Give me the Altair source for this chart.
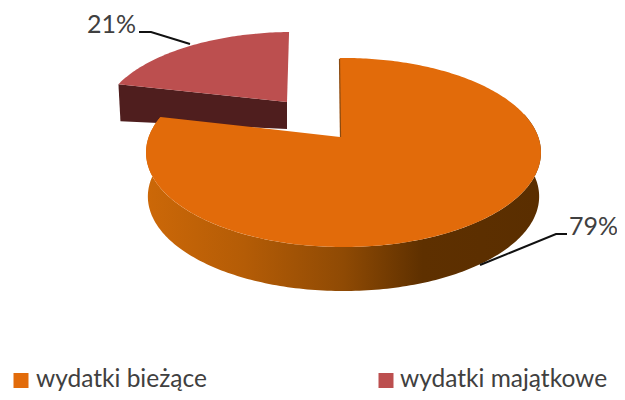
import math
import altair as alt
import pandas as pd

categories = ["wydatki bieżące", "wydatki majątkowe"]
shares = [79, 21]
share_labels = ["79%", "21%"]
colors = ["#E26B0A", "#BC4F4F"]
wall_dark = "#4F1E1E"
M = 8
START = -1.3
K = 0.164


def project(t, cx, cy, ax, by, shear=0.0):
    r = math.radians(t)
    u, v = math.sin(r), math.cos(r)
    d = 1 + K * v
    Y = by * v / d
    return [cx + ax * u / d + shear * Y - M, cy - Y - M]


def arc(t0, t1, **kw):
    n = max(2, int(abs(t1 - t0)))
    return [project(t0 + (t1 - t0) * i / n, **kw) for i in range(n + 1)]


def poly(pts):
    return {"type": "Feature", "properties": {},
            "geometry": {"type": "Polygon", "coordinates": [pts + [pts[0]]]}}


def line(pts):
    return {"type": "Feature", "properties": {},
            "geometry": {"type": "LineString", "coordinates": [[x - M, y - M] for x, y in pts]}}


def shape(feature, **mark):
    return alt.Chart(alt.Data(values=[feature])).mark_geoshape(**mark).project(
        type="identity", scale=1, translate=[0, 0]
    )


big_end = START + shares[0] * 3.6
small_end = big_end + shares[1] * 3.6

big = dict(cx=343.5, cy=137, ax=194.8, by=92)
big_low = dict(cx=343.5, cy=181, ax=193, by=92)
small = dict(cx=287, cy=102, ax=181, by=81.5, shear=0.08)

big_top = arc(START, big_end, **big)
big_top_poly = big_top + [[340 - M, 137 - M]]
big_wall = arc(75, big_end, **big) + arc(big_end, 75, **big_low)

small_top = arc(big_end, small_end, **small)
small_top_poly = small_top + [[287 - M, 102 - M]]
left = small_top[0]
small_wall = [left, [287 - M, 102 - M], [287 - M, 129 - M], [left[0] + 2, left[1] + 37]]

gradient = alt.Gradient(
    gradient="linear", x1=0, x2=1, y1=0, y2=0,
    stops=[
        alt.GradientStop(offset=0, color="#CC6808"),
        alt.GradientStop(offset=0.25, color="#B45C06"),
        alt.GradientStop(offset=0.5, color="#8F4A04"),
        alt.GradientStop(offset=0.7, color="#5E3000"),
        alt.GradientStop(offset=1, color="#5A2E00"),
    ],
)

layers = [
    shape(poly(small_wall), fill=wall_dark, strokeWidth=0),
    shape(poly(small_top_poly), fill=colors[1], strokeWidth=0),
    shape(poly(big_wall), fill=gradient, strokeWidth=0),
    shape(poly(big_top_poly), fill=colors[0], strokeWidth=0),
    shape(line([(339.5, 59), (340.5, 137)]), filled=False, stroke="#8A4A10", strokeWidth=1.2),
    shape(line([(139, 32), (151, 32), (190, 44)]), filled=False, stroke="#111111", strokeWidth=2),
    shape(line([(480, 265), (556, 234), (567, 234)]), filled=False, stroke="#111111", strokeWidth=2),
]


def text(value, x, y, size):
    return alt.Chart(pd.DataFrame({"t": [value]})).mark_text(
        font="Lato", fontSize=size, align="left", baseline="alphabetic", color="#404040"
    ).encode(text="t:N", x=alt.value(x - M), y=alt.value(y - M))


layers += [
    text(share_labels[1], 87, 33, 25),
    text(share_labels[0], 569, 235, 25),
    text(categories[0], 36, 387, 24.5),
    text(categories[1], 400, 387, 24.5),
]

for name, col, x in zip(categories, colors, [21, 386]):
    layers.append(
        alt.Chart(pd.DataFrame({"c": [name]})).mark_square(size=225, color=col, opacity=1).encode(
            x=alt.value(x - M), y=alt.value(380.5 - M)
        )
    )

chart = alt.layer(*layers).properties(
    width=609, height=384, padding=0, background="white",
    autosize=alt.AutoSizeParams(type="none", contains="padding"),
).configure_view(stroke=None)

chart.save("out.html", embed_options={"renderer": "svg", "actions": False})
